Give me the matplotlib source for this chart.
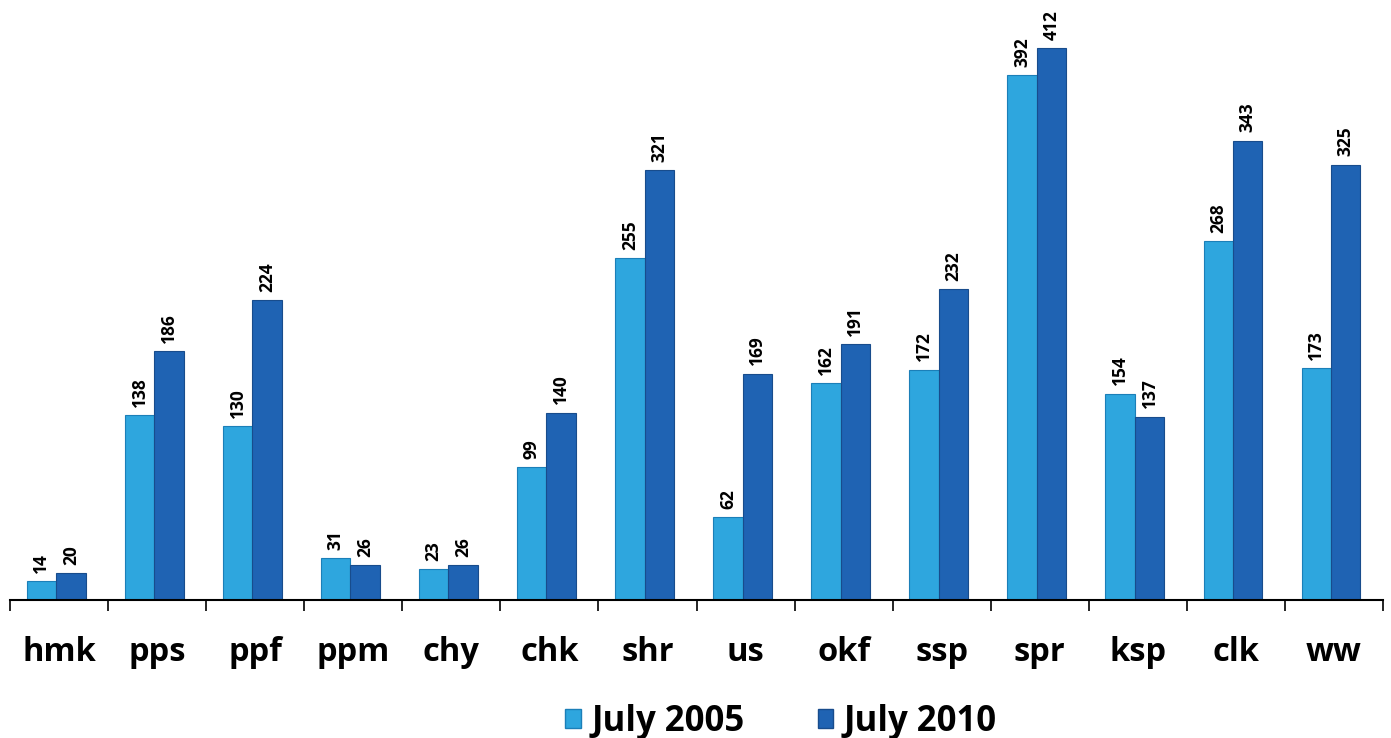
import numpy as np
import matplotlib.pyplot as plt
from matplotlib.patches import Patch

categories = ["hmk", "pps", "ppf", "ppm", "chy", "chk", "shr", "us",
              "okf", "ssp", "spr", "ksp", "clk", "ww"]
july_2005 = [14, 138, 130, 31, 23, 99, 255, 62, 162, 172, 392, 154, 268, 173]
july_2010 = [20, 186, 224, 26, 26, 140, 321, 169, 191, 232, 412, 137, 343, 325]
series_names = ["July 2005", "July 2010"]

plt.rcParams['font.family'] = ['Open Sans', 'DejaVu Sans']

light = "#2ea6de"
dark = "#1f63b3"

fig = plt.figure(figsize=(13.91, 7.38), dpi=100)
ax = fig.add_axes([10 / 1391, 138 / 738, 1373 / 1391, 600 / 738])

x = np.arange(len(categories))
w = 0.3
b1 = ax.bar(x - w / 2 - 0.03, july_2005, w, color=light, edgecolor="#1b7fb8", linewidth=0.8)
b2 = ax.bar(x + w / 2 - 0.03, july_2010, w, color=dark, edgecolor="#184c8c", linewidth=0.8)

for bars, vals in ((b1, july_2005), (b2, july_2010)):
    for r, v in zip(bars, vals):
        ax.annotate(str(v), (r.get_x() + r.get_width() / 2, v),
                    xytext=(0, 6), textcoords="offset points",
                    rotation=90, ha="center", va="bottom",
                    fontsize=12.5, fontweight="bold")

ax.set_xlim(-0.5, len(categories) - 0.5)
ax.set_ylim(0, 448)
for s in ("top", "right", "left"):
    ax.spines[s].set_visible(False)
ax.spines["bottom"].set_linewidth(1.5)
ax.set_yticks([])

ax.set_xticks(x)
ax.set_xticklabels(categories, fontsize=23.5, fontweight="bold")
ax.tick_params(axis="x", which="major", length=0, pad=26)
ax.set_xticks(np.arange(len(categories) + 1) - 0.5, minor=True)
ax.tick_params(axis="x", which="minor", length=8, width=1.2, direction="out")

handles = [Patch(facecolor=light, edgecolor="#1b7fb8"),
           Patch(facecolor=dark, edgecolor="#184c8c")]
fig.legend(handles, series_names, loc="center", bbox_to_anchor=(781 / 1391, 16 / 738),
           ncol=2, frameon=False, prop={"size": 25, "weight": "bold"},
           handlelength=0.45, handleheight=0.45, handletextpad=0.3, columnspacing=2.1)

fig.savefig("out.png", dpi=100)
